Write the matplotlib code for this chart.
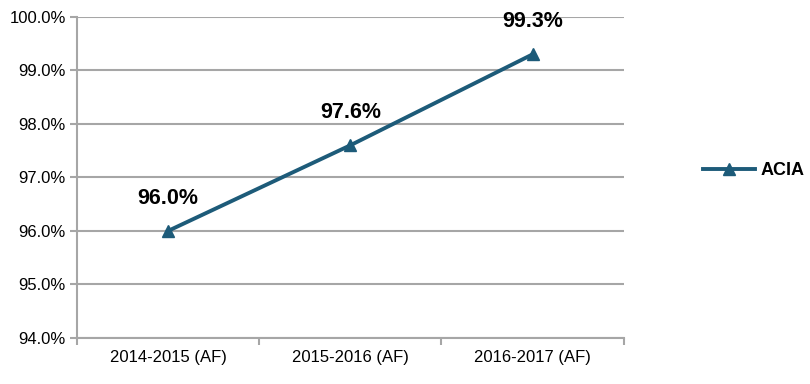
import matplotlib.pyplot as plt
from matplotlib.ticker import FuncFormatter

years = ["2014-2015 (AF)", "2015-2016 (AF)", "2016-2017 (AF)"]
acia = [96.0, 97.6, 99.3]
y_ticks = [94, 95, 96, 97, 98, 99, 100]

line_color = "#1d5b79"
grid_color = "#a6a6a6"
font = ["Liberation Sans Narrow", "Liberation Sans", "DejaVu Sans"]

fig = plt.figure(figsize=(8.1, 3.84), dpi=100)
ax = fig.add_axes([0.095, 0.12, 0.675, 0.836])

x = range(len(years))
ax.plot(x, acia, color=line_color, lw=2.8, marker="^", ms=8, label="ACIA")

for xi, v in zip(x, acia):
    ax.annotate(f"{v:.1f}%", (xi, v), xytext=(0, 16), textcoords="offset points",
                ha="center", va="bottom", fontsize=15.5, fontweight="bold",
                family=font)

ax.set_xlim(-0.5, len(years) - 0.5)
ax.set_ylim(94, 100)
ax.set_yticks(y_ticks)
ax.yaxis.set_major_formatter(FuncFormatter(lambda v, p: f"{v:.1f}%"))
ax.set_xticks(x)
ax.set_xticklabels(years)
ax.set_xticks([-0.5, 0.5, 1.5, 2.5], minor=True)
ax.tick_params(axis="x", which="major", length=0, pad=9)
ax.tick_params(axis="x", which="minor", length=5, color=grid_color, width=1.5, direction="out")
ax.tick_params(axis="y", length=5, color=grid_color, width=1.5, pad=3)
for lab in ax.get_xticklabels() + ax.get_yticklabels():
    lab.set_family(font)
    lab.set_fontsize(12)

ax.grid(axis="y", color=grid_color, lw=1.5)
ax.set_axisbelow(True)
for s in ["top", "right"]:
    ax.spines[s].set_visible(False)
for s in ["left", "bottom"]:
    ax.spines[s].set_color(grid_color)
    ax.spines[s].set_linewidth(1.5)

leg = fig.legend(loc="center left", bbox_to_anchor=(0.848, 0.555), frameon=False,
                 prop={"family": font, "weight": "bold", "size": 13},
                 handlelength=2.9, handletextpad=0.3)

fig.savefig("out.png", dpi=100)
